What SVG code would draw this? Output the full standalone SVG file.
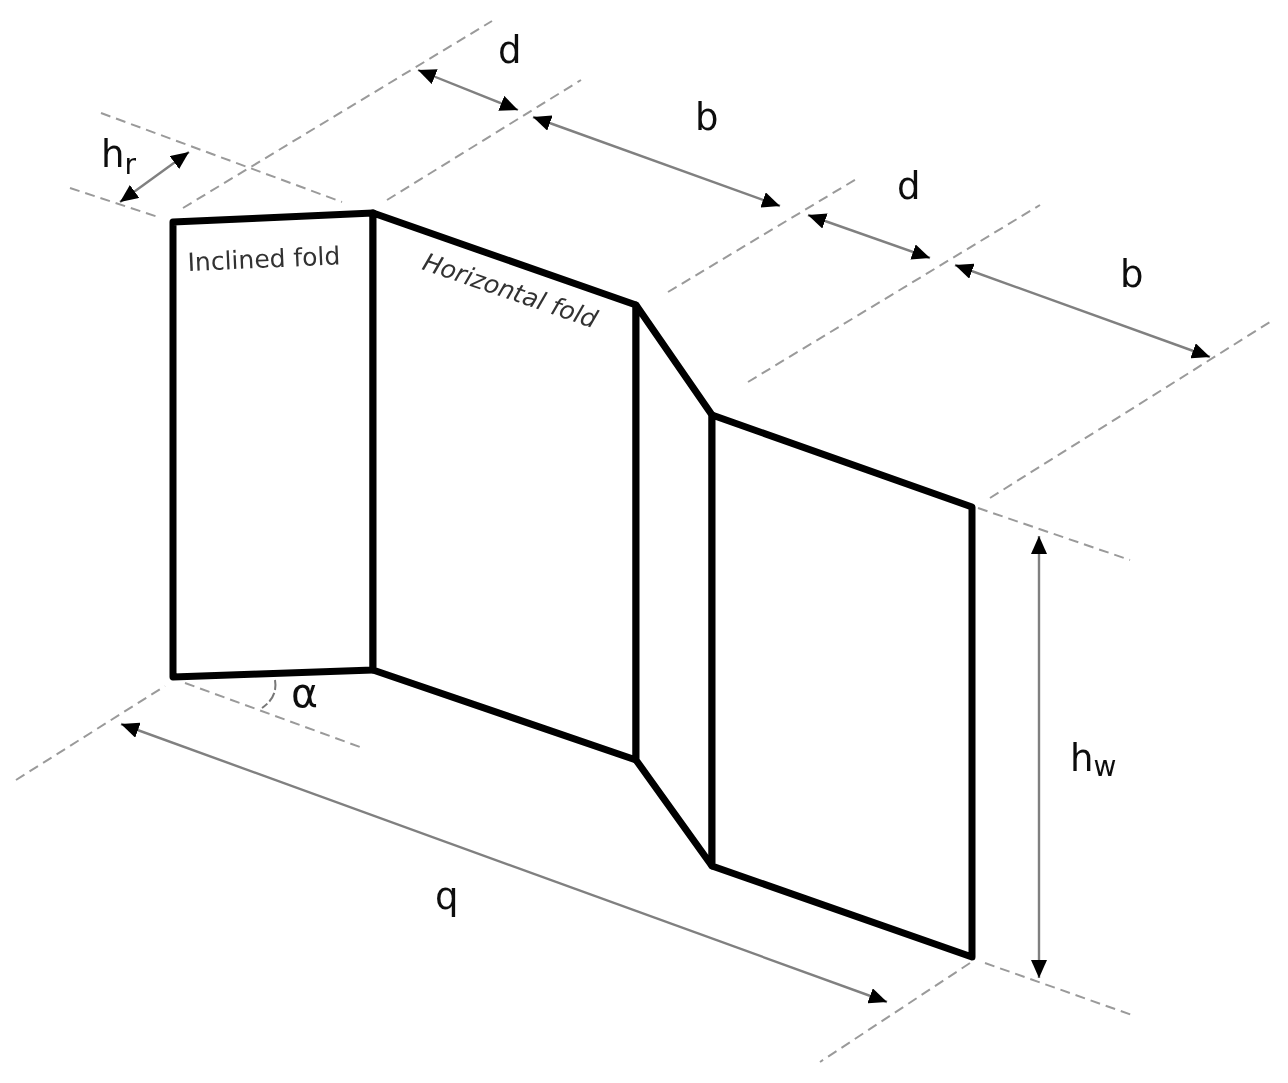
<svg xmlns="http://www.w3.org/2000/svg" width="1288" height="1083" viewBox="0 0 1288 1083">
<style>
.panel{fill:#fff;stroke:#000;stroke-width:7;stroke-linejoin:round}
.dash{fill:none;stroke:#9a9a9a;stroke-width:2;stroke-dasharray:10 6}
.dim{fill:none;stroke:#808080;stroke-width:2.4;marker-start:url(#head);marker-end:url(#head)}
.lab{font-family:"DejaVu Sans",sans-serif;font-size:37px;fill:#111}
.sub{font-size:28px}
.note{font-family:"DejaVu Sans",sans-serif;font-size:25px;fill:#333}
</style>
<defs>
<marker id="head" viewBox="0 0 18 16" refX="18" refY="8" markerWidth="18" markerHeight="16" markerUnits="userSpaceOnUse" orient="auto-start-reverse"><path d="M0 0L18 8L0 16Z" fill="#000"/></marker>
<filter id="soft" x="-5%" y="-5%" width="110%" height="110%"><feGaussianBlur stdDeviation="0.6"/></filter>
</defs>
<rect width="1288" height="1083" fill="#fff"/>
<g filter="url(#soft)">
<g id="connectors">
<line class="dash" x1="101" y1="113" x2="342" y2="202"/>
<line class="dash" x1="70" y1="188" x2="158" y2="217"/>
<line class="dash" x1="183" y1="208" x2="492" y2="21"/>
<line class="dash" x1="387" y1="200" x2="581" y2="80"/>
<line class="dash" x1="668" y1="292" x2="858" y2="178"/>
<line class="dash" x1="748" y1="382" x2="1040" y2="205"/>
<line class="dash" x1="990" y1="498" x2="1270" y2="322"/>
<line class="dash" x1="978" y1="508" x2="1130" y2="560"/>
<line class="dash" x1="16" y1="780" x2="165" y2="686"/>
<line class="dash" x1="185" y1="683" x2="360" y2="747"/>
<line class="dash" x1="970" y1="963" x2="820" y2="1062"/>
<line class="dash" x1="985" y1="963" x2="1132" y2="1015"/>
<line class="dim" x1="120" y1="202" x2="189" y2="152"/>
<line class="dim" x1="418" y1="70" x2="518" y2="110"/>
<line class="dim" x1="533" y1="117" x2="780" y2="206"/>
<line class="dim" x1="808" y1="215" x2="930" y2="258"/>
<line class="dim" x1="955" y1="265" x2="1210" y2="357"/>
<line class="dim" x1="1039" y1="536" x2="1039" y2="978"/>
<line class="dim" x1="121" y1="724" x2="887" y2="1002"/>
<path d="M275 680Q278 697 262 708" fill="none" stroke="#777" stroke-width="2" stroke-dasharray="10 3"/>
</g>
<g id="panel-inclined"><polygon class="panel" points="173,222 373,213 373,670 173,677"/></g>
<g id="panel-horizontal-1"><polygon class="panel" points="373,213 636,305 636,760 373,670"/></g>
<g id="panel-transition"><polygon class="panel" points="636,305 712,415 712,866 636,760"/></g>
<g id="panel-horizontal-2"><polygon class="panel" points="712,415 972,507 972,957 712,866"/></g>
<g id="labels">
<text class="lab" x="101" y="167">h<tspan class="sub" dy="7">r</tspan></text>
<text class="lab" x="498" y="63">d</text>
<text class="lab" x="695" y="130">b</text>
<text class="lab" x="897" y="199">d</text>
<text class="lab" x="1120" y="287">b</text>
<text class="lab" x="1070" y="771">h<tspan class="sub" dy="5">w</tspan></text>
<text class="lab" x="435" y="909">q</text>
<text class="lab" x="291" y="707" style="font-size:41px">α</text>
<text class="note" transform="translate(188 271) rotate(-2.5)">Inclined fold</text>
<text class="note" font-style="italic" transform="translate(421 269) rotate(19)">Horizontal fold</text>
</g>
</g>
</svg>
